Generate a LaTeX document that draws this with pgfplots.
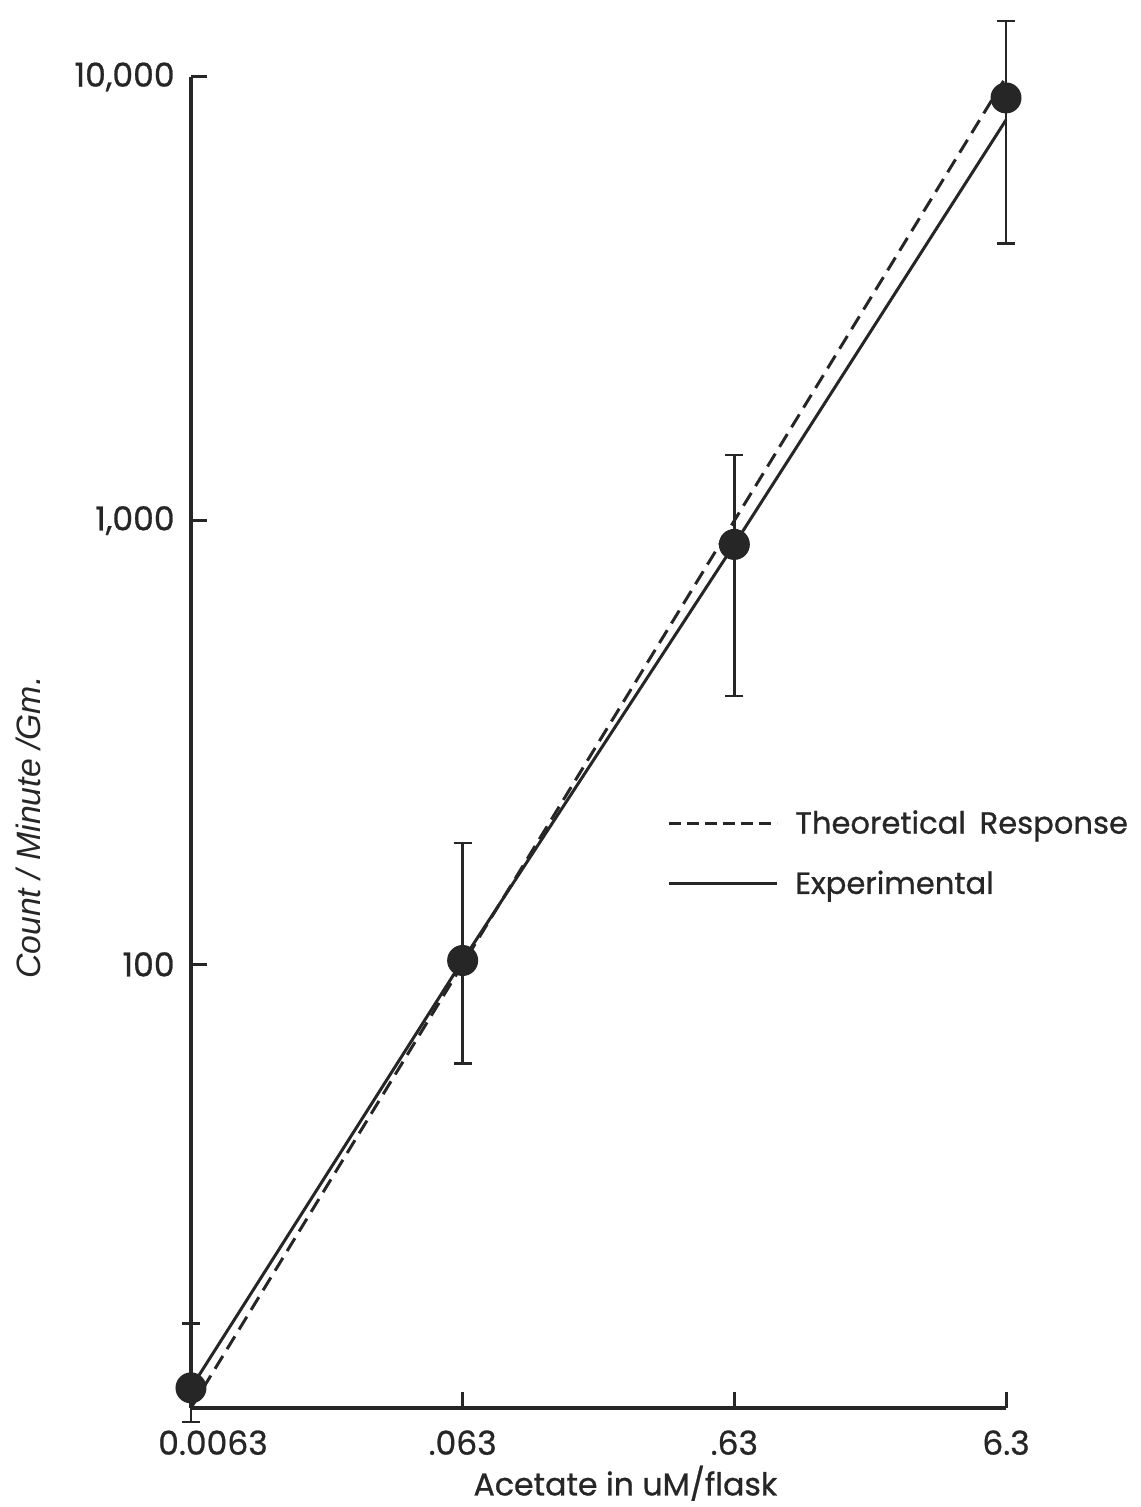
\documentclass[border=0pt]{standalone}
\usepackage{fontspec}
\setmainfont{Poppins}[FakeBold=0.8]
\newfontfamily\helv{Liberation Sans}
\usepackage{pgfplots}
\pgfplotsset{compat=1.18}
\definecolor{ink}{HTML}{262626}
\begin{document}
\begin{tikzpicture}
\begin{axis}[name=ax, scale only axis, width=407.5pt, height=665.5pt,
  xmode=log, ymode=log, xmin=0.0063, xmax=6.3, ymin=10, ymax=10000,
  axis lines=left, axis line style={-, line width=1.7pt, color=ink},
  clip=false,
  xtick={0.0063,0.063,0.63,6.3}, xticklabels={\hspace*{22pt}0.0063,.063,.63,6.3},
  ytick={100,1000,10000}, yticklabels={100,{1,000},{10,000}},
  xminorticks=false, yminorticks=false,
  tick align=inside, major tick length=8pt, tick style={line width=1.5pt, color=ink},
  xticklabel style={font=\fontsize{16.5}{18}\selectfont, inner sep=0pt, anchor=north, yshift=-11pt, text=ink},
  yticklabel style={font=\fontsize{16.5}{18}\selectfont, inner sep=0pt, anchor=east, xshift=-8pt, text=ink},
  xlabel={Acetate in uM/flask},
  xlabel style={font=\fontsize{15.8}{18}\selectfont, at={(axis description cs:0.533,-0.0565)}, anchor=center, text=ink},
  ylabel={Count / Minute /Gm.},
  ylabel style={font=\helv\itshape\fontsize{16.9}{18}\selectfont, at={(axis description cs:-0.2,0.436)}, anchor=center, text=ink},
  legend style={draw=none, fill=none, at={(axis description cs:0.584,0.4165)}, anchor=west, inner sep=0pt,
    row sep=13pt, column sep=6.5pt, font=\fontsize{15.3}{18}\selectfont, text=ink, cells={anchor=west}},
  legend image code/.code={\draw[#1] (0pt,0pt) -- (54pt,0pt);},
]
\addlegendimage{ink, line width=1.5pt, dash pattern=on 6pt off 3pt}
\addlegendentry{Theoretical\hspace{0.45em}Response}
\addlegendimage{ink, line width=1.5pt}
\addlegendentry{Experimental}
\addplot[ink, line width=1.5pt, dash pattern=on 7.5pt off 4pt, forget plot] coordinates {(0.0063,10) (6.3,10000)};
\addplot[ink, line width=1.5pt, forget plot] coordinates {(0.0063,11.1) (0.063,102) (0.63,884) (6.3,8000)};
\addplot[only marks, mark=*, mark size=7.5pt, ink, mark options={fill=ink, draw=ink, line width=0.5pt}, forget plot,
  error bars/.cd, y dir=both, y explicit,
  error bar style={line width=1.2pt, ink},
  error mark options={line width=1.2pt, mark size=4.5pt, rotate=90}]
  coordinates {
  (0.0063,11.1) += (0,4.4) -= (0,1.8)
  (0.063,102) += (0,86) -= (0,42.2)
  (0.63,884) += (0,523) -= (0,482)
  (6.3,8970) += (0,4420) -= (0,4760)
  };
\end{axis}
\pgfresetboundingbox
\path[use as bounding box] (ax.south west) ++(-95.5pt,-49.5pt) rectangle ++(570pt,753.5pt);
\end{tikzpicture}
\end{document}
